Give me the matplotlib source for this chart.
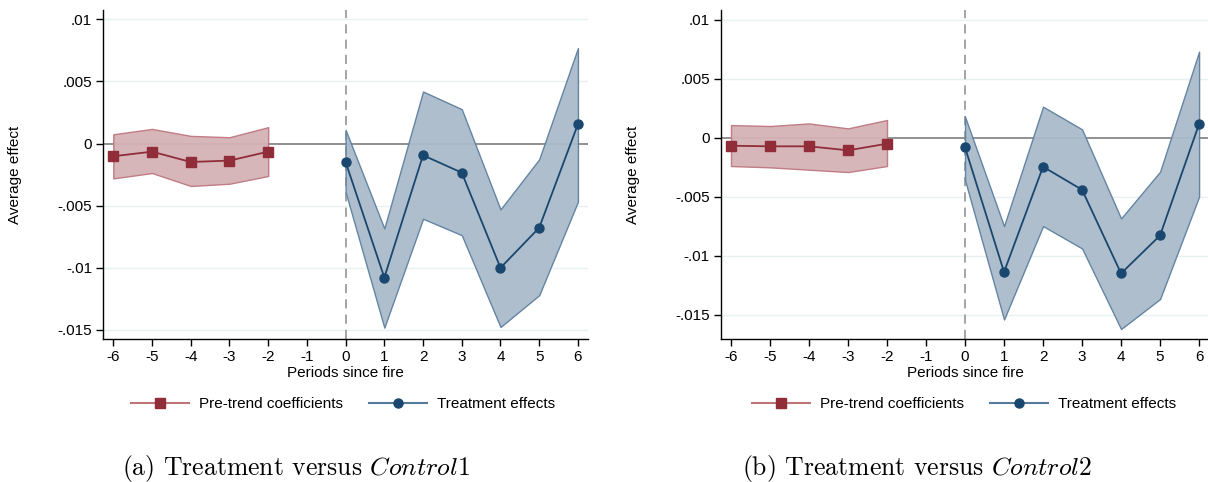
import matplotlib
matplotlib.use("Agg")
import matplotlib.pyplot as plt
from matplotlib.lines import Line2D

# ---- data -------------------------------------------------------------
pre_x = [-6, -5, -4, -3, -2]
post_x = [0, 1, 2, 3, 4, 5, 6]
x_ticks = [-6, -5, -4, -3, -2, -1, 0, 1, 2, 3, 4, 5, 6]
y_ticks = [0.01, 0.005, 0.0, -0.005, -0.01, -0.015]
y_tick_labels = [".01", ".005", "0", "-.005", "-.01", "-.015"]

# Panel (a): treatment versus Control1
a_pre = [-0.00102, -0.00065, -0.00148, -0.00137, -0.00065]
a_pre_hi = [0.00075, 0.00118, 0.00062, 0.00051, 0.00132]
a_pre_lo = [-0.00280, -0.00237, -0.00341, -0.00323, -0.00261]
a_post = [-0.00148, -0.01078, -0.00094, -0.00234, -0.01000, -0.00677, 0.00156]
a_post_hi = [0.00110, -0.00683, 0.00419, 0.00277, -0.00530, -0.00126, 0.00769]
a_post_lo = [-0.00390, -0.01481, -0.00605, -0.00737, -0.01476, -0.01220, -0.00468]

# Panel (b): treatment versus Control2
b_pre = [-0.00068, -0.00073, -0.00073, -0.00107, -0.00051]
b_pre_hi = [0.00107, 0.00099, 0.00121, 0.00079, 0.00150]
b_pre_lo = [-0.00240, -0.00251, -0.00271, -0.00291, -0.00240]
b_post = [-0.00082, -0.01138, -0.00246, -0.00441, -0.01150, -0.00828, 0.00116]
b_post_hi = [0.00178, -0.00749, 0.00263, 0.00071, -0.00684, -0.00288, 0.00729]
b_post_lo = [-0.00359, -0.01540, -0.00749, -0.00938, -0.01621, -0.01367, -0.00500]

legend_labels = ["Pre-trend coefficients", "Treatment effects"]
x_label = "Periods since fire"
y_label = "Average effect"
captions = [r"(a) Treatment versus $\mathit{Control1}$",
            r"(b) Treatment versus $\mathit{Control2}$"]

# ---- styling ----------------------------------------------------------
plt.rcParams["font.family"] = ["Liberation Sans", "DejaVu Sans"]
plt.rcParams["mathtext.fontset"] = "cm"

MAROON = (144 / 255, 45 / 255, 56 / 255)
NAVY = (26 / 255, 71 / 255, 111 / 255)
RED_FILL = (212 / 255, 178 / 255, 181 / 255)
RED_EDGE = (190 / 255, 120 / 255, 128 / 255)
BLUE_FILL = (170 / 255, 187 / 255, 203 / 255)
BLUE_EDGE = (95 / 255, 128 / 255, 160 / 255)
GRID = (232 / 255, 240 / 255, 242 / 255)
FS = 11

W, H = 1208, 482
fig = plt.figure(figsize=(W / 100, H / 100), dpi=100)


def px_axes(left, right, top, bottom):
    return fig.add_axes([left / W, (H - bottom) / H, (right - left) / W, (bottom - top) / H])


def draw_panel(ax, pre, pre_hi, pre_lo, post, post_hi, post_lo, ylim, xlim):
    ax.set_xlim(*xlim)
    ax.set_ylim(*ylim)
    for yt in y_ticks:
        if yt != 0:
            ax.axhline(yt, color=GRID, lw=1.0, zorder=0)
    ax.axhline(0, color=(0.45, 0.45, 0.45), lw=1.1, zorder=1)
    ax.axvline(0, color=(0.55, 0.55, 0.55), lw=1.1, ls=(0, (6, 4)), zorder=1)

    ax.fill_between(pre_x, pre_lo, pre_hi, facecolor=RED_FILL, edgecolor=RED_EDGE,
                    lw=1.0, alpha=0.95, zorder=2)
    ax.fill_between(post_x, post_lo, post_hi, facecolor=BLUE_FILL, edgecolor=BLUE_EDGE,
                    lw=1.0, alpha=0.95, zorder=2)
    ax.plot(pre_x, pre, color=MAROON, lw=1.3, marker="s", ms=6.8,
            markerfacecolor=MAROON, markeredgecolor=MAROON, zorder=3)
    ax.plot(post_x, post, color=NAVY, lw=1.3, marker="o", ms=6.5,
            markerfacecolor=NAVY, markeredgecolor=NAVY, zorder=3)

    ax.set_xticks(x_ticks)
    ax.set_xticklabels([str(v) for v in x_ticks])
    ax.set_yticks(y_ticks)
    ax.set_yticklabels(y_tick_labels)
    ax.tick_params(direction="out", length=5, width=1, labelsize=FS, pad=3, colors="black")
    for side in ("top", "right"):
        ax.spines[side].set_visible(False)
    for side in ("left", "bottom"):
        ax.spines[side].set_linewidth(1.0)
        ax.spines[side].set_color("black")
    ax.set_xlabel(x_label, fontsize=FS, labelpad=1)


ax_a = px_axes(103.3, 588, 10, 339.3)
draw_panel(ax_a, a_pre, a_pre_hi, a_pre_lo, a_post, a_post_hi, a_post_lo,
           ylim=(-0.01575, 0.01075), xlim=(-6.258, 6.26))
ax_b = px_axes(721, 1210, 10, 339.3)
draw_panel(ax_b, b_pre, b_pre_hi, b_pre_lo, b_post, b_post_hi, b_post_lo,
           ylim=(-0.01708, 0.01082), xlim=(-6.256, 6.28))

fig.text(15 / W, 1 - 174.5 / H, y_label, rotation=90, ha="center", va="center", fontsize=FS)
fig.text(633 / W, 1 - 174.5 / H, y_label, rotation=90, ha="center", va="center", fontsize=FS)

handles = [
    Line2D([], [], color=(0.75, 0.45, 0.48), lw=1.5, marker="s", ms=7,
           markerfacecolor=MAROON, markeredgecolor=MAROON),
    Line2D([], [], color=(0.33, 0.48, 0.62), lw=1.5, marker="o", ms=6.5,
           markerfacecolor=NAVY, markeredgecolor=NAVY),
]
for cx in (343 / W, 964 / W):
    fig.legend(handles, legend_labels, loc="center", bbox_to_anchor=(cx, 1 - 404 / H),
               ncol=2, frameon=False, fontsize=FS, handlelength=3.8,
               handletextpad=0.65, columnspacing=1.75, borderpad=0)

for cx, cap in zip((296 / W, 917 / W), captions):
    fig.text(cx, 1 - 468 / H, cap, ha="center", va="center", fontsize=18.5,
             family="cmr10")

fig.savefig("out.png", dpi=100)
